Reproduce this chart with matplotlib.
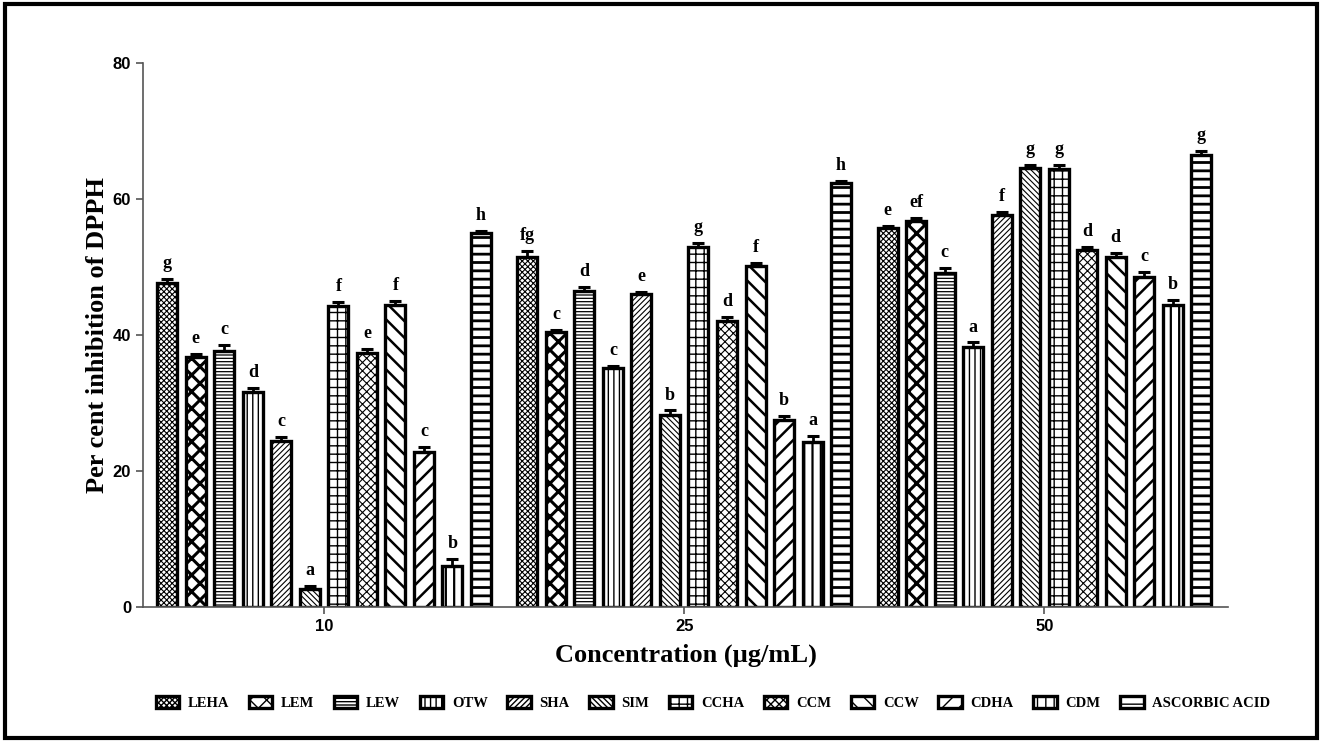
import matplotlib
matplotlib.use("Agg")
import matplotlib.pyplot as plt
from matplotlib.patches import Rectangle
import numpy as np

concentrations = ["10", "25", "50"]
extracts = ["LEHA", "LEM", "LEW", "OTW", "SHA", "SIM", "CCHA", "CCM", "CCW",
            "CDHA", "CDM", "ASCORBIC ACID"]

# values per extract, for concentrations 10, 25, 50
LEHA = [47.7, 51.4, 55.7]
LEM = [36.7, 40.4, 56.8]
LEW = [37.7, 46.5, 49.1]
OTW = [31.6, 35.1, 38.3]
SHA = [24.4, 46.0, 57.6]
SIM = [2.7, 28.3, 64.5]
CCHA = [44.3, 53.0, 64.4]
CCM = [37.3, 42.0, 52.5]
CCW = [44.4, 50.1, 51.4]
CDHA = [22.8, 27.5, 48.5]
CDM = [6.0, 24.3, 44.4]
ASCORBIC = [55.0, 62.3, 66.5]

LEHA_err = [0.6, 0.9, 0.4]
LEM_err = [0.5, 0.4, 0.4]
LEW_err = [0.8, 0.6, 0.7]
OTW_err = [0.6, 0.4, 0.6]
SHA_err = [0.6, 0.3, 0.5]
SIM_err = [0.4, 0.6, 0.5]
CCHA_err = [0.5, 0.5, 0.6]
CCM_err = [0.6, 0.7, 0.5]
CCW_err = [0.6, 0.5, 0.6]
CDHA_err = [0.7, 0.6, 0.8]
CDM_err = [1.1, 0.8, 0.8]
ASCORBIC_err = [0.3, 0.3, 0.5]

LEHA_sig = ["g", "fg", "e"]
LEM_sig = ["e", "c", "ef"]
LEW_sig = ["c", "d", "c"]
OTW_sig = ["d", "c", "a"]
SHA_sig = ["c", "e", "f"]
SIM_sig = ["a", "b", "g"]
CCHA_sig = ["f", "g", "g"]
CCM_sig = ["e", "d", "d"]
CCW_sig = ["f", "f", "d"]
CDHA_sig = ["c", "b", "c"]
CDM_sig = ["b", "a", "b"]
ASCORBIC_sig = ["h", "h", "g"]

values = [LEHA, LEM, LEW, OTW, SHA, SIM, CCHA, CCM, CCW, CDHA, CDM, ASCORBIC]
errors = [LEHA_err, LEM_err, LEW_err, OTW_err, SHA_err, SIM_err, CCHA_err,
          CCM_err, CCW_err, CDHA_err, CDM_err, ASCORBIC_err]
sigs = [LEHA_sig, LEM_sig, LEW_sig, OTW_sig, SHA_sig, SIM_sig, CCHA_sig,
        CCM_sig, CCW_sig, CDHA_sig, CDM_sig, ASCORBIC_sig]

hatches = ["xxxxxx", "xx", "-----", "|||", "//////", "\\\\\\\\\\\\",
           "++", "xxxx", "\\\\", "//", "||", "--"]
hatch_lw = [0.8, 2.2, 0.9, 1.0, 0.8, 0.8, 1.0, 0.8, 1.8, 1.8, 1.6, 2.0]

serif = ["Liberation Serif", "DejaVu Serif"]
sans = ["Liberation Sans", "DejaVu Sans"]

fig = plt.figure(figsize=(13.22, 7.42), dpi=100)
ax = fig.add_axes([143 / 1322, 1 - 607 / 742, (1228 - 143) / 1322, (607 - 63) / 742])

x = np.arange(len(concentrations))
pitch = 28.5 / 360
width = 20 / 360
for j, name in enumerate(extracts):
    pos = x + (j - 5.5) * pitch
    with plt.rc_context({"hatch.linewidth": hatch_lw[j], "hatch.color": "black"}):
        ax.bar(pos, values[j], width=width, color="white", edgecolor="black",
               linewidth=2.4, hatch=hatches[j], label=name, zorder=2)
    ax.errorbar(pos, values[j], yerr=[np.zeros(3), errors[j]], fmt="none",
                ecolor="black", elinewidth=2.0, capsize=4, capthick=2.2, zorder=3)
    for k in range(3):
        ax.annotate(sigs[j][k], (pos[k], values[j][k] + errors[j][k]),
                    xytext=(0, 5), textcoords="offset points", ha="center",
                    va="bottom", fontsize=13, fontweight="bold", family=serif)

ax.set_xlim(-0.503, 2.51)
ax.set_ylim(0, 80)
ax.set_yticks([0, 20, 40, 60, 80])
ax.set_xticks(x)
ax.set_xticklabels(concentrations)
for s in ["top", "right"]:
    ax.spines[s].set_visible(False)
for s in ["left", "bottom"]:
    ax.spines[s].set_color("#555555")
    ax.spines[s].set_linewidth(1.2)
ax.tick_params(axis="both", colors="#555555", length=5, width=1.2)
for lab in ax.get_xticklabels() + ax.get_yticklabels():
    lab.set_family(sans)
    lab.set_fontweight("bold")
    lab.set_fontsize(12)
    lab.set_color("black")

ax.set_ylabel("Per cent inhibition of DPPH", fontsize=19, fontweight="bold",
              family=serif, labelpad=3)
ax.set_xlabel("Concentration (µg/mL)", fontsize=19, fontweight="bold",
              family=serif, labelpad=7)

leg = fig.legend(loc="center", bbox_to_anchor=(713 / 1322, 1 - 703 / 742), ncol=12,
                 frameon=False, handlelength=1.6, handleheight=0.9,
                 handletextpad=0.6, columnspacing=1.35,
                 prop={"family": serif, "weight": "bold", "size": 10.5})

fig.patches.append(Rectangle((0.004, 0.006), 0.992, 0.988, transform=fig.transFigure,
                             fill=False, edgecolor="black", linewidth=3))

fig.savefig("out.png", dpi=100)
